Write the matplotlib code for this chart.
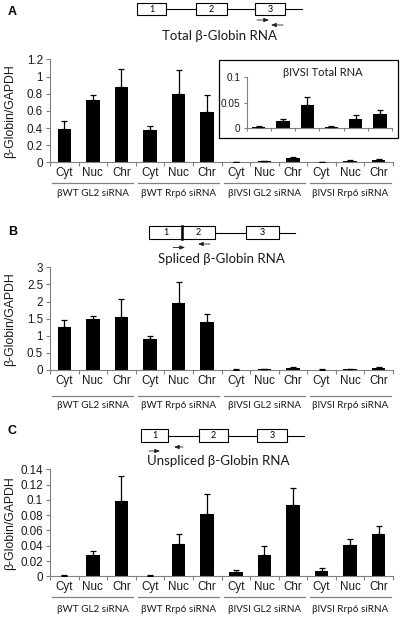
import matplotlib
matplotlib.use("Agg")
import matplotlib.pyplot as plt
import numpy as np
from matplotlib.patches import Rectangle
from matplotlib.lines import Line2D
import matplotlib.transforms as mtransforms

# ---------------- data ----------------
fractions = ["Cyt", "Nuc", "Chr"]
groups = ["\u03b2WT GL2 siRNA", "\u03b2WT Rrp6 siRNA", "\u03b2IVSI GL2 siRNA", "\u03b2IVSI Rrp6 siRNA"]
categories = fractions * 4

total_vals = [0.385, 0.73, 0.88, 0.38, 0.80, 0.59, 0.003, 0.014, 0.046, 0.003, 0.018, 0.028]
total_errs = [0.095, 0.05, 0.21, 0.04, 0.28, 0.19, 0.001, 0.004, 0.015, 0.001, 0.009, 0.007]

inset_vals = [0.003, 0.014, 0.046, 0.003, 0.018, 0.028]
inset_errs = [0.001, 0.004, 0.015, 0.001, 0.009, 0.007]

spliced_vals = [1.27, 1.50, 1.56, 0.90, 1.95, 1.41, 0.01, 0.03, 0.07, 0.01, 0.03, 0.06]
spliced_errs = [0.18, 0.07, 0.50, 0.10, 0.62, 0.24, 0.005, 0.01, 0.02, 0.005, 0.01, 0.02]

unspliced_vals = [0.001, 0.0275, 0.099, 0.0008, 0.042, 0.081, 0.006, 0.0275, 0.093, 0.007, 0.041, 0.055]
unspliced_errs = [0.0003, 0.006, 0.032, 0.0003, 0.013, 0.027, 0.0027, 0.0115, 0.023, 0.0035, 0.008, 0.011]

yticks_A = [0, 0.2, 0.4, 0.6, 0.8, 1, 1.2]
yticks_B = [0, 0.5, 1, 1.5, 2, 2.5, 3]
yticks_C = [0, 0.02, 0.04, 0.06, 0.08, 0.1, 0.12, 0.14]
yticks_inset = [0, 0.05, 0.1]

titles = ["Total \u03b2-Globin RNA", "Spliced \u03b2-Globin RNA", "Unspliced \u03b2-Globin RNA"]
inset_title = "\u03b2IVSI Total RNA"
ylabel = "\u03b2-Globin/GAPDH"

# ---------------- style ----------------
W, H = 400, 617
fig = plt.figure(figsize=(W / 100, H / 100), dpi=100)
TICKFONT = ["Liberation Sans", "DejaVu Sans"]
TITLEFONT = ["Lato", "DejaVu Sans"]
GREY = "#808080"
TXT = "#1a1a1a"

def fx(px):
    return px / W

def fy(py):
    return 1 - py / H

def ticklabel(v):
    return "%g" % v

def bar_panel(rect, vals, errs, yticks, line_off_px, label_off_px):
    ax = fig.add_axes(rect)
    x = np.arange(len(vals))
    ax.bar(x, vals, width=0.47, color="black", zorder=2)
    ax.errorbar(x, vals, yerr=[np.zeros(len(vals)), errs], fmt="none",
                ecolor="black", elinewidth=0.9, capsize=2.2, capthick=0.9, zorder=3)
    ax.set_xlim(-0.5, len(vals) - 0.5)
    ax.set_ylim(0, yticks[-1])
    ax.set_yticks(yticks)
    ax.set_yticklabels([ticklabel(v) for v in yticks], family=TICKFONT, fontsize=8.4, color=TXT)
    ax.set_xticks(x)
    ax.set_xticklabels(categories, family=TICKFONT, fontsize=8.4, color=TXT)
    ax.set_xticks(np.arange(-0.5, len(vals)), minor=True)
    ax.tick_params(axis="x", which="major", length=0, pad=3.5)
    ax.tick_params(axis="x", which="minor", length=3, color=GREY, width=0.8)
    ax.tick_params(axis="y", length=3, color=GREY, width=0.8, pad=2)
    for s in ["top", "right"]:
        ax.spines[s].set_visible(False)
    for s in ["left", "bottom"]:
        ax.spines[s].set_color(GREY)
        ax.spines[s].set_linewidth(0.8)
    ax.set_ylabel(ylabel, family=TICKFONT, fontsize=8.8, color=TXT)
    ax.yaxis.set_label_coords(-0.10, 0.5)
    ax.set_facecolor("none")
    # group lines and labels
    base = mtransforms.blended_transform_factory(ax.transData, ax.transAxes)
    tline = mtransforms.offset_copy(base, fig=fig, y=-line_off_px * 0.72, units="points")
    tlab = mtransforms.offset_copy(base, fig=fig, y=-label_off_px * 0.72, units="points")
    for i, g in enumerate(groups):
        ln = Line2D([3 * i - 0.42, 3 * i + 2.42], [0, 0], transform=tline,
                    color=GREY, lw=0.9, clip_on=False)
        ax.add_line(ln)
        ax.text(3 * i + 1, 0, g, transform=tlab, ha="center", va="center",
                family=TITLEFONT, fontsize=7.1, color=TXT, clip_on=False)
    return ax

# axes rectangles from pixel positions
axA = bar_panel([fx(50), fy(162.3), fx(393) - fx(50), fy(59.5) - fy(162.3)],
                total_vals, total_errs, yticks_A, 21, 31)
axB = bar_panel([fx(50), fy(370.0), fx(393) - fx(50), fy(267.3) - fy(370.0)],
                spliced_vals, spliced_errs, yticks_B, 26, 35)
axC = bar_panel([fx(50), fy(576.3), fx(393) - fx(50), fy(469.3) - fy(576.3)],
                unspliced_vals, unspliced_errs, yticks_C, 21, 33)

# ---------------- overlay for diagrams ----------------
ov = fig.add_axes([0, 0, 1, 1])
ov.set_xlim(0, W)
ov.set_ylim(H, 0)
ov.axis("off")
ov.set_zorder(5)

def gene(boxes, yt, yb, line_end, fused=False):
    ymid = (yt + yb) / 2
    for (a0, a1), (b0, b1) in zip(boxes[:-1], boxes[1:]):
        if b0 > a1:
            ov.plot([a1, b0], [ymid, ymid], color="black", lw=0.8)
    ov.plot([boxes[-1][1], line_end], [ymid, ymid], color="black", lw=0.8)
    for k, (a, b) in enumerate(boxes):
        ov.add_patch(Rectangle((a, yt), b - a, yb - yt, facecolor="white",
                               edgecolor="black", lw=0.8))
        ov.text((a + b) / 2, ymid + 0.3, str(k + 1), ha="center", va="center",
                family=TITLEFONT, fontsize=6.5)
    if fused:
        ov.plot([boxes[0][1], boxes[0][1]], [yt, yb], color="black", lw=1.8)

def arrow(x0, x1, y):
    ov.annotate("", xy=(x1, y), xytext=(x0, y),
                arrowprops=dict(arrowstyle="-|>,head_length=0.3,head_width=0.12",
                                color="#222222", lw=0.6, shrinkA=0, shrinkB=0))

# Panel A diagram
gene([(137, 166), (196, 227), (255, 285)], 3, 15, 302)
arrow(257, 269, 20)
arrow(283, 271, 25)
ov.text(220, 36, titles[0], ha="center", va="center", family=TITLEFONT, fontsize=9.5, color=TXT)

# Panel B diagram
gene([(149, 182), (182, 215), (246, 279)], 226, 239, 295, fused=True)
arrow(173, 185, 247.5)
arrow(210, 198, 244)
ov.text(221, 259, titles[1], ha="center", va="center", family=TITLEFONT, fontsize=9.5, color=TXT)

# Panel C diagram
gene([(141, 168), (199, 228), (257, 287)], 429, 442, 304)
arrow(149, 160, 451)
arrow(183, 174, 447)
ov.text(218, 461, titles[2], ha="center", va="center", family=TITLEFONT, fontsize=9.5, color=TXT)

# panel letters
for lab, yy in [("A", 12), ("B", 232), ("C", 431)]:
    ov.text(8, yy, lab, ha="left", va="center", family=TICKFONT,
            fontweight="bold", fontsize=9)

# inset frame
ov.add_patch(Rectangle((219, 60), 179, 78, facecolor="white", edgecolor="black", lw=0.9, zorder=1))

# ---------------- inset ----------------
axI = fig.add_axes([fx(246.7), fy(128.3), fx(392) - fx(246.7), fy(77.3) - fy(128.3)])
axI.set_zorder(6)
xi = np.arange(len(inset_vals))
axI.bar(xi, inset_vals, width=0.55, color="black", zorder=2)
axI.errorbar(xi, inset_vals, yerr=[np.zeros(len(inset_vals)), inset_errs], fmt="none",
             ecolor="black", elinewidth=0.9, capsize=2.2, capthick=0.9, zorder=3)
axI.set_xlim(-0.5, len(inset_vals) - 0.5)
axI.set_ylim(0, yticks_inset[-1])
axI.set_yticks(yticks_inset)
axI.set_yticklabels([ticklabel(v) for v in yticks_inset], family=TICKFONT, fontsize=7.2, color=TXT)
axI.set_xticks(np.arange(-0.5, len(inset_vals)), minor=True)
axI.set_xticks([])
axI.tick_params(axis="x", which="minor", length=2.5, color=GREY, width=0.8)
axI.tick_params(axis="y", length=2.5, color=GREY, width=0.8, pad=2)
for s in ["top", "right"]:
    axI.spines[s].set_visible(False)
for s in ["left", "bottom"]:
    axI.spines[s].set_color(GREY)
    axI.spines[s].set_linewidth(0.8)
axI.set_facecolor("none")
ov.text(323, 72, inset_title, ha="center", va="center", family=TITLEFONT, fontsize=8, color=TXT)

fig.savefig("out.png", dpi=100)
